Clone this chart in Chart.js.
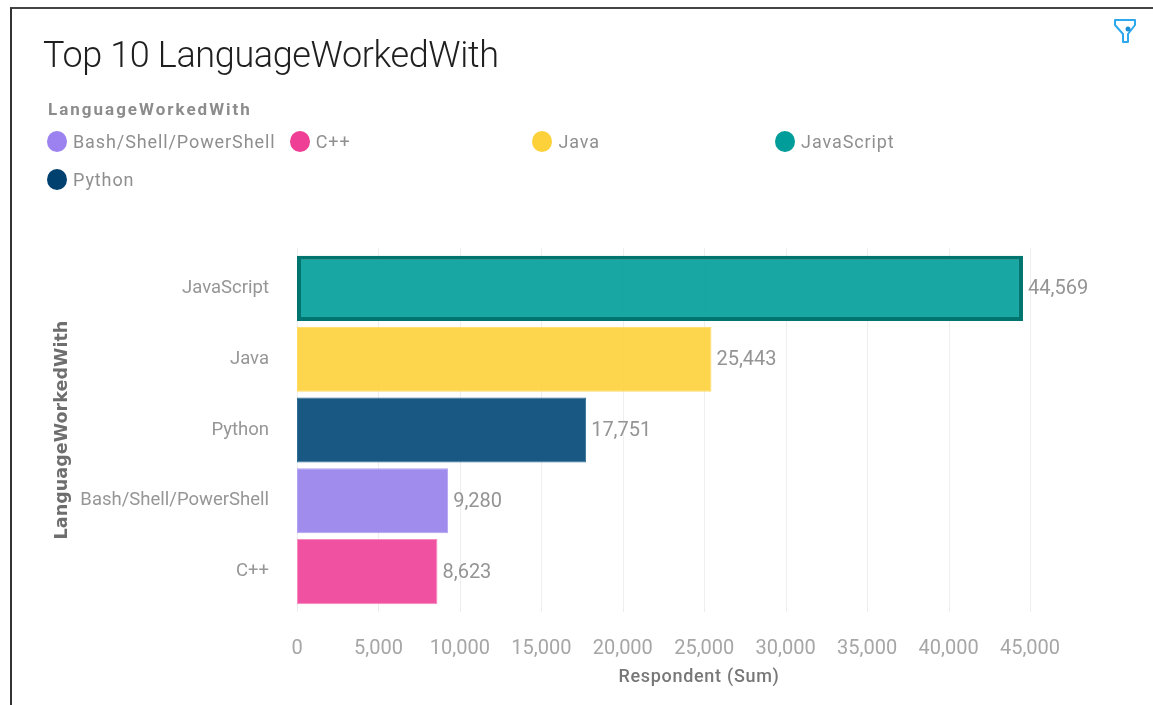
<!DOCTYPE html>
<html lang="en">
    <head>
        <meta charset="UTF-8" />
        <title>Top 10 LanguageWorkedWith</title>
        <script src="https://cdn.jsdelivr.net/npm/chart.js"></script>
        <style>
            html, body { margin: 0; padding: 0; background: #fff; overflow: hidden; }
            body { width: 1153px; height: 705px; position: relative; font-family: "Roboto", sans-serif; }
            #frame { position: absolute; left: 10px; top: 7px; right: -4px; bottom: -4px; border-left: 2px solid #333; border-top: 2px solid #444; }
            #chartBox { position: absolute; left: 0; top: 0; width: 1153px; height: 705px; }
            #title { position: absolute; left: 43px; top: 34px; font-size: 36px; font-weight: 300; color: #1f1f1f; letter-spacing: -0.37px; white-space: nowrap; }
            #legendTitle { position: absolute; left: 48px; top: 99px; font-size: 17px; font-weight: 700; color: #8c8c8c; letter-spacing: 2px; }
            #legend { position: absolute; left: 47px; top: 122px; display: grid; grid-template-columns: repeat(4, 242.7px); grid-auto-rows: 38px; }
            #legend div { display: flex; align-items: center; font-size: 18px; color: #8f8f8f; white-space: nowrap; letter-spacing: 0.9px; }
            #legend i { width: 20px; height: 21px; border-radius: 50%; margin-right: 6px; flex: none; }
            #filter { position: absolute; left: 1113px; top: 18px; }
            #xTitle { position: absolute; left: 549px; width: 300px; top: 665px; text-align: center; font-size: 18px; font-weight: 500; color: #777; letter-spacing: 0.7px; }
        </style>
    </head>
    <body>
        <div id="chartBox"><canvas id="barChart"></canvas></div>
        <div id="frame"></div>
        <div id="title">Top 10 LanguageWorkedWith</div>
        <div id="legendTitle"></div>
        <div id="legend"></div>
        <div id="xTitle"></div>
        <svg id="filter" width="24" height="26" viewBox="0 0 24 26" fill="none">
            <path d="M2 2H22V7L15 16V24H10V16L2 7Z" stroke="#2ea8ec" stroke-width="2" stroke-linejoin="round" />
            <circle cx="15" cy="11" r="2.5" fill="#1b8fd6" />
        </svg>

        <script>
            const fieldName = 'LanguageWorkedWith';
            const categories = ['JavaScript', 'Java', 'Python', 'Bash/Shell/PowerShell', 'C++'];
            const respondents = [44569, 25443, 17751, 9280, 8623];
            const barColors = [
                'rgba(0,157,154,0.9)',
                'rgba(253,209,58,0.9)',
                'rgba(0,70,118,0.9)',
                'rgba(150,128,235,0.9)',
                'rgba(238,62,150,0.9)'
            ];
            const barBorders = ['#00756f', '#ffdc60', '#2f6f96', '#b3a3f2', '#f58cc0'];
            const barBorderWidths = [4, 1, 1, 1, 1];

            const legendNames = ['Bash/Shell/PowerShell', 'C++', 'Java', 'JavaScript', 'Python'];
            const legendColors = ['#9b82f0', '#ee3e96', '#fdd13a', '#009d9a', '#00416f'];

            const xTicks = [0, 5000, 10000, 15000, 20000, 25000, 30000, 35000, 40000, 45000];
            const xTitle = 'Respondent (Sum)';

            document.getElementById('legendTitle').textContent = fieldName;
            document.getElementById('xTitle').textContent = xTitle;
            document.getElementById('legend').innerHTML = legendNames
                .map((n, i) => `<div><i style="background:${legendColors[i]}"></i>${n}</div>`)
                .join('');

            // grid lines run a little past the plot area, top and bottom
            const gridLines = {
                id: 'gridLines',
                beforeDatasetsDraw(chart) {
                    const { ctx, chartArea, scales } = chart;
                    ctx.save();
                    ctx.strokeStyle = '#eeeeee';
                    ctx.lineWidth = 1;
                    xTicks.forEach((t) => {
                        const x = Math.round(scales.x.getPixelForValue(t)) + 0.5;
                        ctx.beginPath();
                        ctx.moveTo(x, chartArea.top - 5);
                        ctx.lineTo(x, chartArea.bottom + 5);
                        ctx.stroke();
                    });
                    ctx.restore();
                }
            };

            const valueLabels = {
                id: 'valueLabels',
                afterDatasetsDraw(chart) {
                    const { ctx } = chart;
                    ctx.save();
                    ctx.font = '20px Roboto';
                    ctx.fillStyle = '#949494';
                    ctx.textAlign = 'left';
                    ctx.textBaseline = 'middle';
                    chart.getDatasetMeta(0).data.forEach((bar, i) => {
                        ctx.fillText(respondents[i].toLocaleString('en-US'), bar.x + 5, bar.y + 1);
                    });
                    ctx.restore();
                }
            };

            new Chart(document.getElementById('barChart'), {
                type: 'bar',
                data: {
                    labels: categories,
                    datasets: [{
                        data: respondents,
                        backgroundColor: barColors,
                        borderColor: barBorders,
                        borderWidth: barBorderWidths,
                        borderSkipped: false,
                        categoryPercentage: 1,
                        barPercentage: 0.92
                    }]
                },
                options: {
                    indexAxis: 'y',
                    responsive: true,
                    maintainAspectRatio: false,
                    animation: false,
                    layout: { padding: { left: 52, right: 123, top: 253, bottom: 14 } },
                    plugins: { legend: { display: false }, tooltip: { enabled: false } },
                    scales: {
                        x: {
                            min: 0,
                            max: 45000,
                            grid: { display: false },
                            border: { display: false },
                            afterBuildTicks(scale) { scale.ticks = xTicks.map((v) => ({ value: v })); },
                            ticks: {
                                padding: 22,
                                maxRotation: 0,
                                color: '#a6a6a6',
                                font: { family: 'Roboto', size: 20 },
                                callback: (v) => Number(v).toLocaleString('en-US')
                            },
                            afterFit(scale) { scale.height = 84; }
                        },
                        y: {
                            grid: { display: false },
                            border: { display: false },
                            ticks: {
                                padding: 20,
                                color: '#969696',
                                font: { family: 'Roboto', size: 18.5 }
                            },
                            title: {
                                display: true,
                                text: fieldName,
                                color: '#6e6e6e',
                                padding: 0,
                                font: { family: 'DejaVu Sans', size: 17.6, weight: '700' }
                            },
                            afterFit(scale) { scale.width = 245; }
                        }
                    }
                },
                plugins: [gridLines, valueLabels]
            });
        </script>
    </body>
</html>
